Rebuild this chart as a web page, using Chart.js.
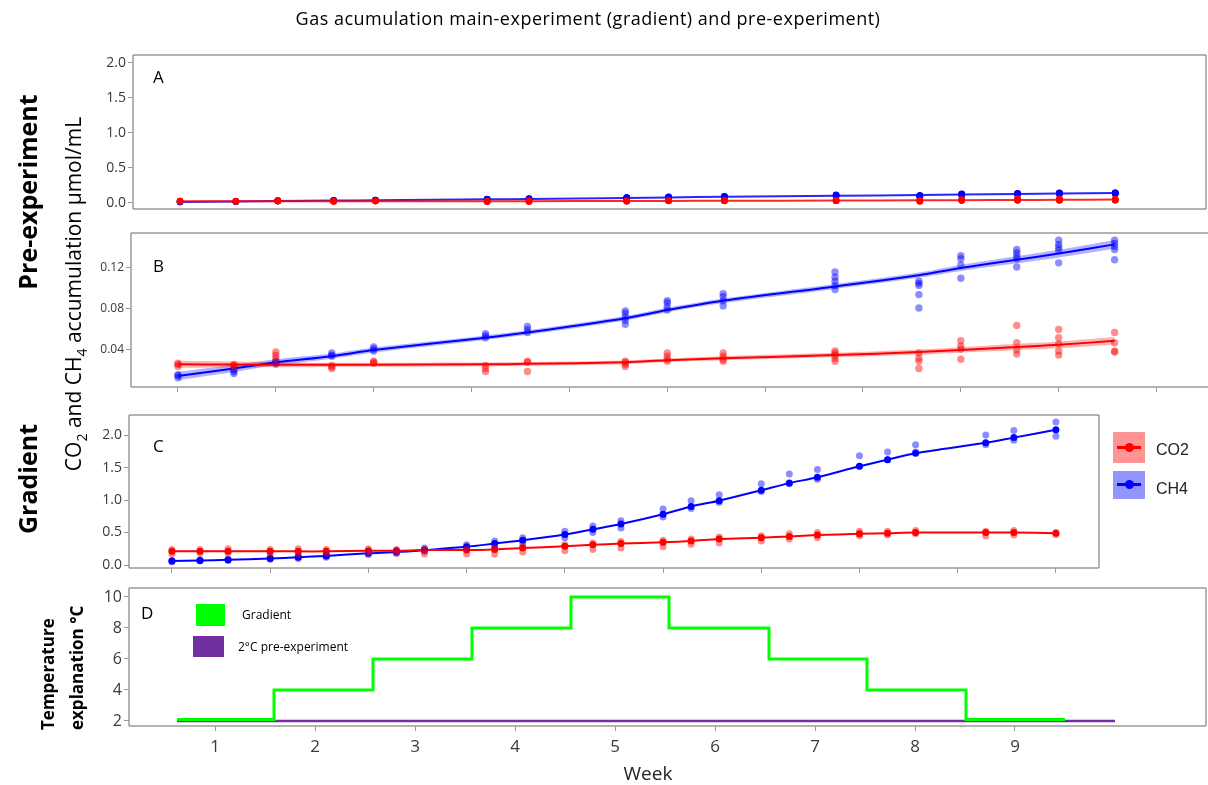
<!DOCTYPE html>
<html>
<head>
<meta charset="utf-8">
<script src="https://cdn.jsdelivr.net/npm/chart.js@4.4.1/dist/chart.umd.min.js"></script>
<style>
  html, body { margin: 0; padding: 0; background: #fff; overflow: hidden; }
  body { width: 1208px; height: 785px; position: relative; font-family: 'Open Sans', sans-serif; }
  canvas { position: absolute; left: 0; top: 0; }
  .txt { position: absolute; white-space: nowrap; color: #000; line-height: 1; }
  .rot { transform: translate(-50%, -50%) rotate(-90deg); }
  .lg { position: absolute; }
</style>
</head>
<body>
<canvas id="chartD" width="1208" height="785"></canvas>
<canvas id="chartC" width="1208" height="785"></canvas>
<canvas id="chartB" width="1208" height="785"></canvas>
<canvas id="chartA" width="1208" height="785"></canvas>

<div class="txt" style="left:588px; top:18px; transform:translate(-50%,-50%); font-size:18px; letter-spacing:0.5px;">Gas acumulation main-experiment (gradient) and pre-experiment)</div>

<div class="txt rot" style="left:27px; top:192px; font-size:25px; font-weight:bold;">Pre-experiment</div>
<div class="txt rot" style="left:27px; top:479px; font-size:25px; font-weight:bold;">Gradient</div>
<div class="txt rot" style="left:76px; top:294px; font-size:21px;">CO<sub style="font-size:14px">2</sub> and CH<sub style="font-size:14px">4</sub> accumulation µmol/mL</div>
<div class="txt" style="left:33px; top:730px; transform-origin:0 0; transform:rotate(-90deg); font-size:17px; font-weight:bold; line-height:29px; text-align:left;">Temperature<br>explanation °C</div>

<div class="txt" style="left:153px; top:68px; font-size:17px;">A</div>
<div class="txt" style="left:153px; top:257px; font-size:17px;">B</div>
<div class="txt" style="left:153px; top:437px; font-size:17px;">C</div>
<div class="txt" style="left:141px; top:604px; font-size:17px;">D</div>

<!-- legend panel C -->
<div class="lg" style="left:1113px; top:432px; width:32px; height:31px; background:rgba(255,0,0,0.42);">
  <div class="lg" style="left:4px; right:4px; top:14px; height:3px; background:#f00;"></div>
  <div class="lg" style="left:12px; top:11px; width:9px; height:9px; border-radius:50%; background:#f00;"></div>
</div>
<div class="lg" style="left:1113px; top:471px; width:32px; height:28px; background:rgba(0,0,255,0.42);">
  <div class="lg" style="left:4px; right:4px; top:12px; height:3px; background:#00f;"></div>
  <div class="lg" style="left:12px; top:9px; width:9px; height:9px; border-radius:50%; background:#00f;"></div>
</div>
<div class="txt" style="left:1156px; top:442px; font-family:'Liberation Sans', Arial, sans-serif; font-size:16px; color:#222;">CO2</div>
<div class="txt" style="left:1156px; top:481px; font-family:'Liberation Sans', Arial, sans-serif; font-size:16px; color:#222;">CH4</div>

<!-- legend panel D -->
<div class="lg" style="left:196px; top:604px; width:29px; height:22px; background:#00ff00;"></div>
<div class="lg" style="left:193px; top:636px; width:31px; height:21px; background:#7030a0;"></div>
<div class="txt" style="left:242px; top:609px; font-size:12px;">Gradient</div>
<div class="txt" style="left:238px; top:641px; font-size:12px;">2°C pre-experiment</div>

<div class="txt" style="left:648px; top:773px; transform:translate(-50%,-50%); font-size:19px; color:#222;">Week</div>

<script>
// pre-experiment sampling days (panels A and B)
const preDays = [0, 4, 7, 11, 14, 22, 25, 32, 35, 39, 47, 53, 56, 60, 63, 67];
const preCo2Reps = [
  [0.024, 0.026, 0.027], [0.024, 0.025, 0.026], [0.026, 0.032, 0.035, 0.038], [0.022, 0.0235, 0.025],
  [0.027, 0.028, 0.029], [0.019, 0.022, 0.025], [0.019, 0.028, 0.029], [0.024, 0.026, 0.028, 0.029],
  [0.029, 0.031, 0.034, 0.037], [0.029, 0.031, 0.034, 0.037], [0.029, 0.032, 0.035, 0.037, 0.039], [0.022, 0.029, 0.032, 0.037],
  [0.031, 0.041, 0.044, 0.049], [0.036, 0.040, 0.047, 0.064], [0.035, 0.039, 0.046, 0.052, 0.060], [0.038, 0.039, 0.047, 0.057]
];
const preCh4Reps = [
  [0.013, 0.015, 0.016], [0.017, 0.019, 0.021], [0.027, 0.028, 0.029], [0.034, 0.035, 0.037],
  [0.039, 0.041, 0.043], [0.052, 0.054, 0.056], [0.057, 0.060, 0.063], [0.065, 0.069, 0.072, 0.076, 0.078],
  [0.079, 0.082, 0.086, 0.088], [0.083, 0.088, 0.092, 0.095], [0.099, 0.103, 0.107, 0.111, 0.116], [0.081, 0.094, 0.103, 0.105, 0.107],
  [0.110, 0.123, 0.129, 0.132], [0.121, 0.129, 0.132, 0.135, 0.138], [0.125, 0.137, 0.140, 0.143, 0.147], [0.128, 0.138, 0.141, 0.144, 0.147]
];
const preCo2Fit = [0.026, 0.0258, 0.0256, 0.0255, 0.0256, 0.026, 0.0265, 0.028, 0.030, 0.032, 0.035, 0.038, 0.040, 0.043, 0.045, 0.049];
const preCh4Fit = [0.0146, 0.022, 0.028, 0.034, 0.040, 0.052, 0.057, 0.071, 0.079, 0.088, 0.102, 0.113, 0.120, 0.128, 0.134, 0.143];
const preCo2Se = [0.0035, 0.003, 0.0025, 0.002, 0.002, 0.0018, 0.0018, 0.0018, 0.0018, 0.002, 0.0022, 0.0024, 0.0026, 0.003, 0.0033, 0.0036];
const preCh4Se = [0.004, 0.0035, 0.003, 0.0025, 0.0024, 0.0022, 0.0022, 0.0022, 0.0022, 0.0022, 0.0024, 0.0026, 0.003, 0.0034, 0.0037, 0.0042];

// gradient experiment sampling days (panel C)
const gradDays = [0, 2, 4, 7, 9, 11, 14, 16, 18, 21, 23, 25, 28, 30, 32, 35, 37, 39, 42, 44, 46, 49, 51, 53, 58, 60, 63];
const gradCo2Fit = [0.21, 0.21, 0.21, 0.21, 0.21, 0.21, 0.22, 0.22, 0.23, 0.23, 0.24, 0.26, 0.29, 0.31, 0.33, 0.35, 0.37, 0.40, 0.42, 0.44, 0.46, 0.48, 0.49, 0.50, 0.50, 0.50, 0.49];
const gradCo2Lo = [0.17, 0.18, 0.18, 0.18, 0.17, 0.18, 0.18, 0.18, 0.17, 0.17, 0.17, 0.20, 0.22, 0.24, 0.26, 0.28, 0.32, 0.34, 0.37, 0.40, 0.42, 0.45, 0.46, 0.48, 0.45, 0.46, 0.47];
const gradCo2Hi = [0.24, 0.24, 0.25, 0.24, 0.25, 0.24, 0.25, 0.24, 0.24, 0.24, 0.26, 0.28, 0.31, 0.34, 0.36, 0.38, 0.40, 0.43, 0.45, 0.48, 0.50, 0.52, 0.52, 0.53, 0.52, 0.53, 0.50];
const gradCh4Fit = [0.06, 0.07, 0.08, 0.10, 0.12, 0.14, 0.18, 0.20, 0.23, 0.28, 0.33, 0.38, 0.47, 0.55, 0.63, 0.78, 0.90, 0.99, 1.15, 1.26, 1.35, 1.52, 1.62, 1.72, 1.88, 1.96, 2.08];
const gradCh4Lo = [0.05, 0.06, 0.07, 0.09, 0.10, 0.12, 0.16, 0.18, 0.21, 0.25, 0.29, 0.34, 0.42, 0.50, 0.57, 0.74, 0.87, 0.96, 1.13, 1.25, 1.32, 1.52, 1.62, 1.74, 1.85, 1.92, 1.98];
const gradCh4Hi = [0.07, 0.08, 0.09, 0.12, 0.14, 0.16, 0.20, 0.22, 0.26, 0.31, 0.37, 0.42, 0.52, 0.60, 0.68, 0.86, 0.99, 1.08, 1.25, 1.40, 1.47, 1.68, 1.74, 1.85, 2.00, 2.07, 2.20];

// temperature plan (panel D), in weeks
const stepWeeks = [0.62, 1.59, 2.58, 3.57, 4.56, 5.54, 6.54, 7.52, 8.51, 9.5];
const stepTemps = [2.1, 4, 6, 8, 10, 8, 6, 4, 2.1, 2.1];
const preTempWeeks = [0.62, 10.0];
const preTemps = [2, 2];

// tick labels
const ticksA = [0, 0.5, 1, 1.5, 2];
const ticksB = [0.04, 0.08, 0.12];
const ticksC = [0, 0.5, 1, 1.5, 2];
const ticksD = [2, 4, 6, 8, 10];
const dayTicksB = [0, 7, 14, 21, 28, 35, 42, 49, 56, 63, 70];
const dayTicksC = [0, 7, 14, 21, 28, 35, 42, 49, 56, 63];
const weekTicks = [1, 2, 3, 4, 5, 6, 7, 8, 9];

Chart.defaults.font.family = 'Open Sans';
Chart.defaults.animation = false;

// frame round the plot area (B is cut at the right edge)
const boxFrame = {
  id: 'boxFrame',
  afterDraw(chart, args, opts) {
    const a = chart.chartArea, ctx = chart.ctx;
    const sides = opts.sides || 'tlbr';
    ctx.save();
    ctx.strokeStyle = '#9a9a9a';
    ctx.lineWidth = 1.5;
    ctx.beginPath();
    if (sides.includes('t')) { ctx.moveTo(a.left, a.top); ctx.lineTo(a.right, a.top); }
    if (sides.includes('l')) { ctx.moveTo(a.left, a.top); ctx.lineTo(a.left, a.bottom); }
    if (sides.includes('b')) { ctx.moveTo(a.left, a.bottom); ctx.lineTo(a.right, a.bottom); }
    if (sides.includes('r')) { ctx.moveTo(a.right, a.top); ctx.lineTo(a.right, a.bottom); }
    ctx.stroke();
    ctx.restore();
  }
};

function pts(xs, ys) { return xs.map((x, i) => ({ x: x, y: ys[i] })); }
function repPts(xs, reps) {
  const out = [];
  xs.forEach((x, i) => reps[i].forEach(v => out.push({ x: x, y: v })));
  return out;
}
function band(fit, se, sign) { return fit.map((v, i) => v + sign * se[i]); }

function yScale(min, max, ticks, size, digits) {
  return {
    type: 'linear', min: min, max: max,
    afterBuildTicks: s => { s.ticks = ticks.map(v => ({ value: v })); },
    afterFit: s => { s.width = 40; },
    border: { display: false },
    grid: { drawOnChartArea: false, drawTicks: true, tickLength: 5, color: '#9a9a9a' },
    ticks: { padding: 2, color: '#3a3a3a', font: { size: size }, callback: v => v.toFixed(digits) }
  };
}
function xScale(min, max, ticks, labels, h) {
  return {
    type: 'linear', min: min, max: max, display: h > 0,
    afterBuildTicks: s => { s.ticks = ticks.map(v => ({ value: v })); },
    afterFit: s => { s.height = h; },
    border: { display: false },
    grid: { drawOnChartArea: false, drawTicks: true, tickLength: 5, color: '#9a9a9a' },
    ticks: { display: labels, padding: 6, color: '#3a3a3a', font: { size: 17 }, maxRotation: 0, autoSkip: false }
  };
}
function opts(box, xs, ys, sides, xh) {
  return {
    responsive: false,
    events: [],
    layout: { autoPadding: false, padding: { left: box[0] - 40, top: box[1], right: 1208 - box[2], bottom: 785 - box[3] - xh } },
    plugins: { legend: { display: false }, tooltip: { enabled: false }, boxFrame: { sides: sides } },
    scales: { x: xs, y: ys }
  };
}
function scatter(data, color, r) {
  return { data: data, showLine: false, pointRadius: r, pointBackgroundColor: color, pointBorderWidth: 0, borderColor: color };
}
function fitLine(data, color, w, r) {
  return { data: data, borderColor: color, borderWidth: w, pointRadius: r, pointBackgroundColor: color, pointBorderWidth: 0, tension: 0.3 };
}
function bandSet(data, color, fill) {
  return { data: data, borderWidth: 0, borderColor: 'rgba(0,0,0,0)', pointRadius: 0, backgroundColor: color, fill: fill, tension: 0.3 };
}

// A: pre-experiment on the common scale
new Chart(document.getElementById('chartA'), {
  type: 'line',
  data: { datasets: [
    scatter(repPts(preDays, preCo2Reps), '#ff0000', 3.3),
    fitLine(pts(preDays, preCo2Fit), 'rgba(255,0,0,0.85)', 2, 0),
    scatter(repPts(preDays, preCh4Reps), '#0000ff', 3.3),
    fitLine(pts(preDays, preCh4Fit), 'rgba(0,0,255,0.85)', 2, 0)
  ] },
  options: opts([133, 55, 1206, 209], xScale(-3.37, 73.5, [], false, 0), yScale(-0.086, 2.114, ticksA, 14, 1), 'tlbr', 0),
  plugins: [boxFrame]
});

// B: pre-experiment zoomed
new Chart(document.getElementById('chartB'), {
  type: 'line',
  data: { datasets: [
    scatter(repPts(preDays, preCo2Reps), 'rgba(255,0,0,0.45)', 3.7),
    scatter(repPts(preDays, preCh4Reps), 'rgba(0,0,255,0.45)', 3.7),
    fitLine(pts(preDays, preCo2Fit), '#ff0000', 2, 0),
    fitLine(pts(preDays, preCh4Fit), '#0000ff', 2, 0),
    bandSet(pts(preDays, band(preCo2Fit, preCo2Se, 1)), 'rgba(255,0,0,0.3)', '+1'),
    bandSet(pts(preDays, band(preCo2Fit, preCo2Se, -1)), 'rgba(255,0,0,0.3)', false),
    bandSet(pts(preDays, band(preCh4Fit, preCh4Se, 1)), 'rgba(0,0,255,0.3)', '+1'),
    bandSet(pts(preDays, band(preCh4Fit, preCh4Se, -1)), 'rgba(0,0,255,0.3)', false)
  ] },
  options: opts([131, 233, 1208, 387], xScale(-3.36, 73.68, dayTicksB, false, 6), yScale(0.0039, 0.1541, ticksB, 12, 2), 'tlb', 6),
  plugins: [boxFrame]
});

// C: gradient experiment
new Chart(document.getElementById('chartC'), {
  type: 'line',
  data: { datasets: [
    scatter(pts(gradDays, gradCo2Lo), 'rgba(255,0,0,0.45)', 3.5),
    scatter(pts(gradDays, gradCo2Hi), 'rgba(255,0,0,0.45)', 3.5),
    scatter(pts(gradDays, gradCh4Lo), 'rgba(0,0,255,0.45)', 3.5),
    scatter(pts(gradDays, gradCh4Hi), 'rgba(0,0,255,0.45)', 3.5),
    fitLine(pts(gradDays, gradCo2Fit), '#ff0000', 2, 3.5),
    fitLine(pts(gradDays, gradCh4Fit), '#0000ff', 2, 3.5)
  ] },
  options: opts([129, 415, 1099, 568], xScale(-3.06, 66.07, dayTicksC, false, 6), yScale(-0.046, 2.308, ticksC, 14, 1), 'tlbr', 6),
  plugins: [boxFrame]
});

// D: temperature plan
new Chart(document.getElementById('chartD'), {
  type: 'line',
  data: { datasets: [
    { data: pts(stepWeeks, stepTemps), stepped: 'before', borderColor: '#00ff00', borderWidth: 3, pointRadius: 0 },
    { data: pts(preTempWeeks, preTemps), borderColor: '#7030a0', borderWidth: 2.5, pointRadius: 0 }
  ] },
  options: opts([129, 588, 1206, 726], xScale(0.14, 10.91, weekTicks, true, 34), yScale(1.677, 10.58, ticksD, 16, 0), 'tlbr', 34),
  plugins: [boxFrame]
});
</script>
</body>
</html>
